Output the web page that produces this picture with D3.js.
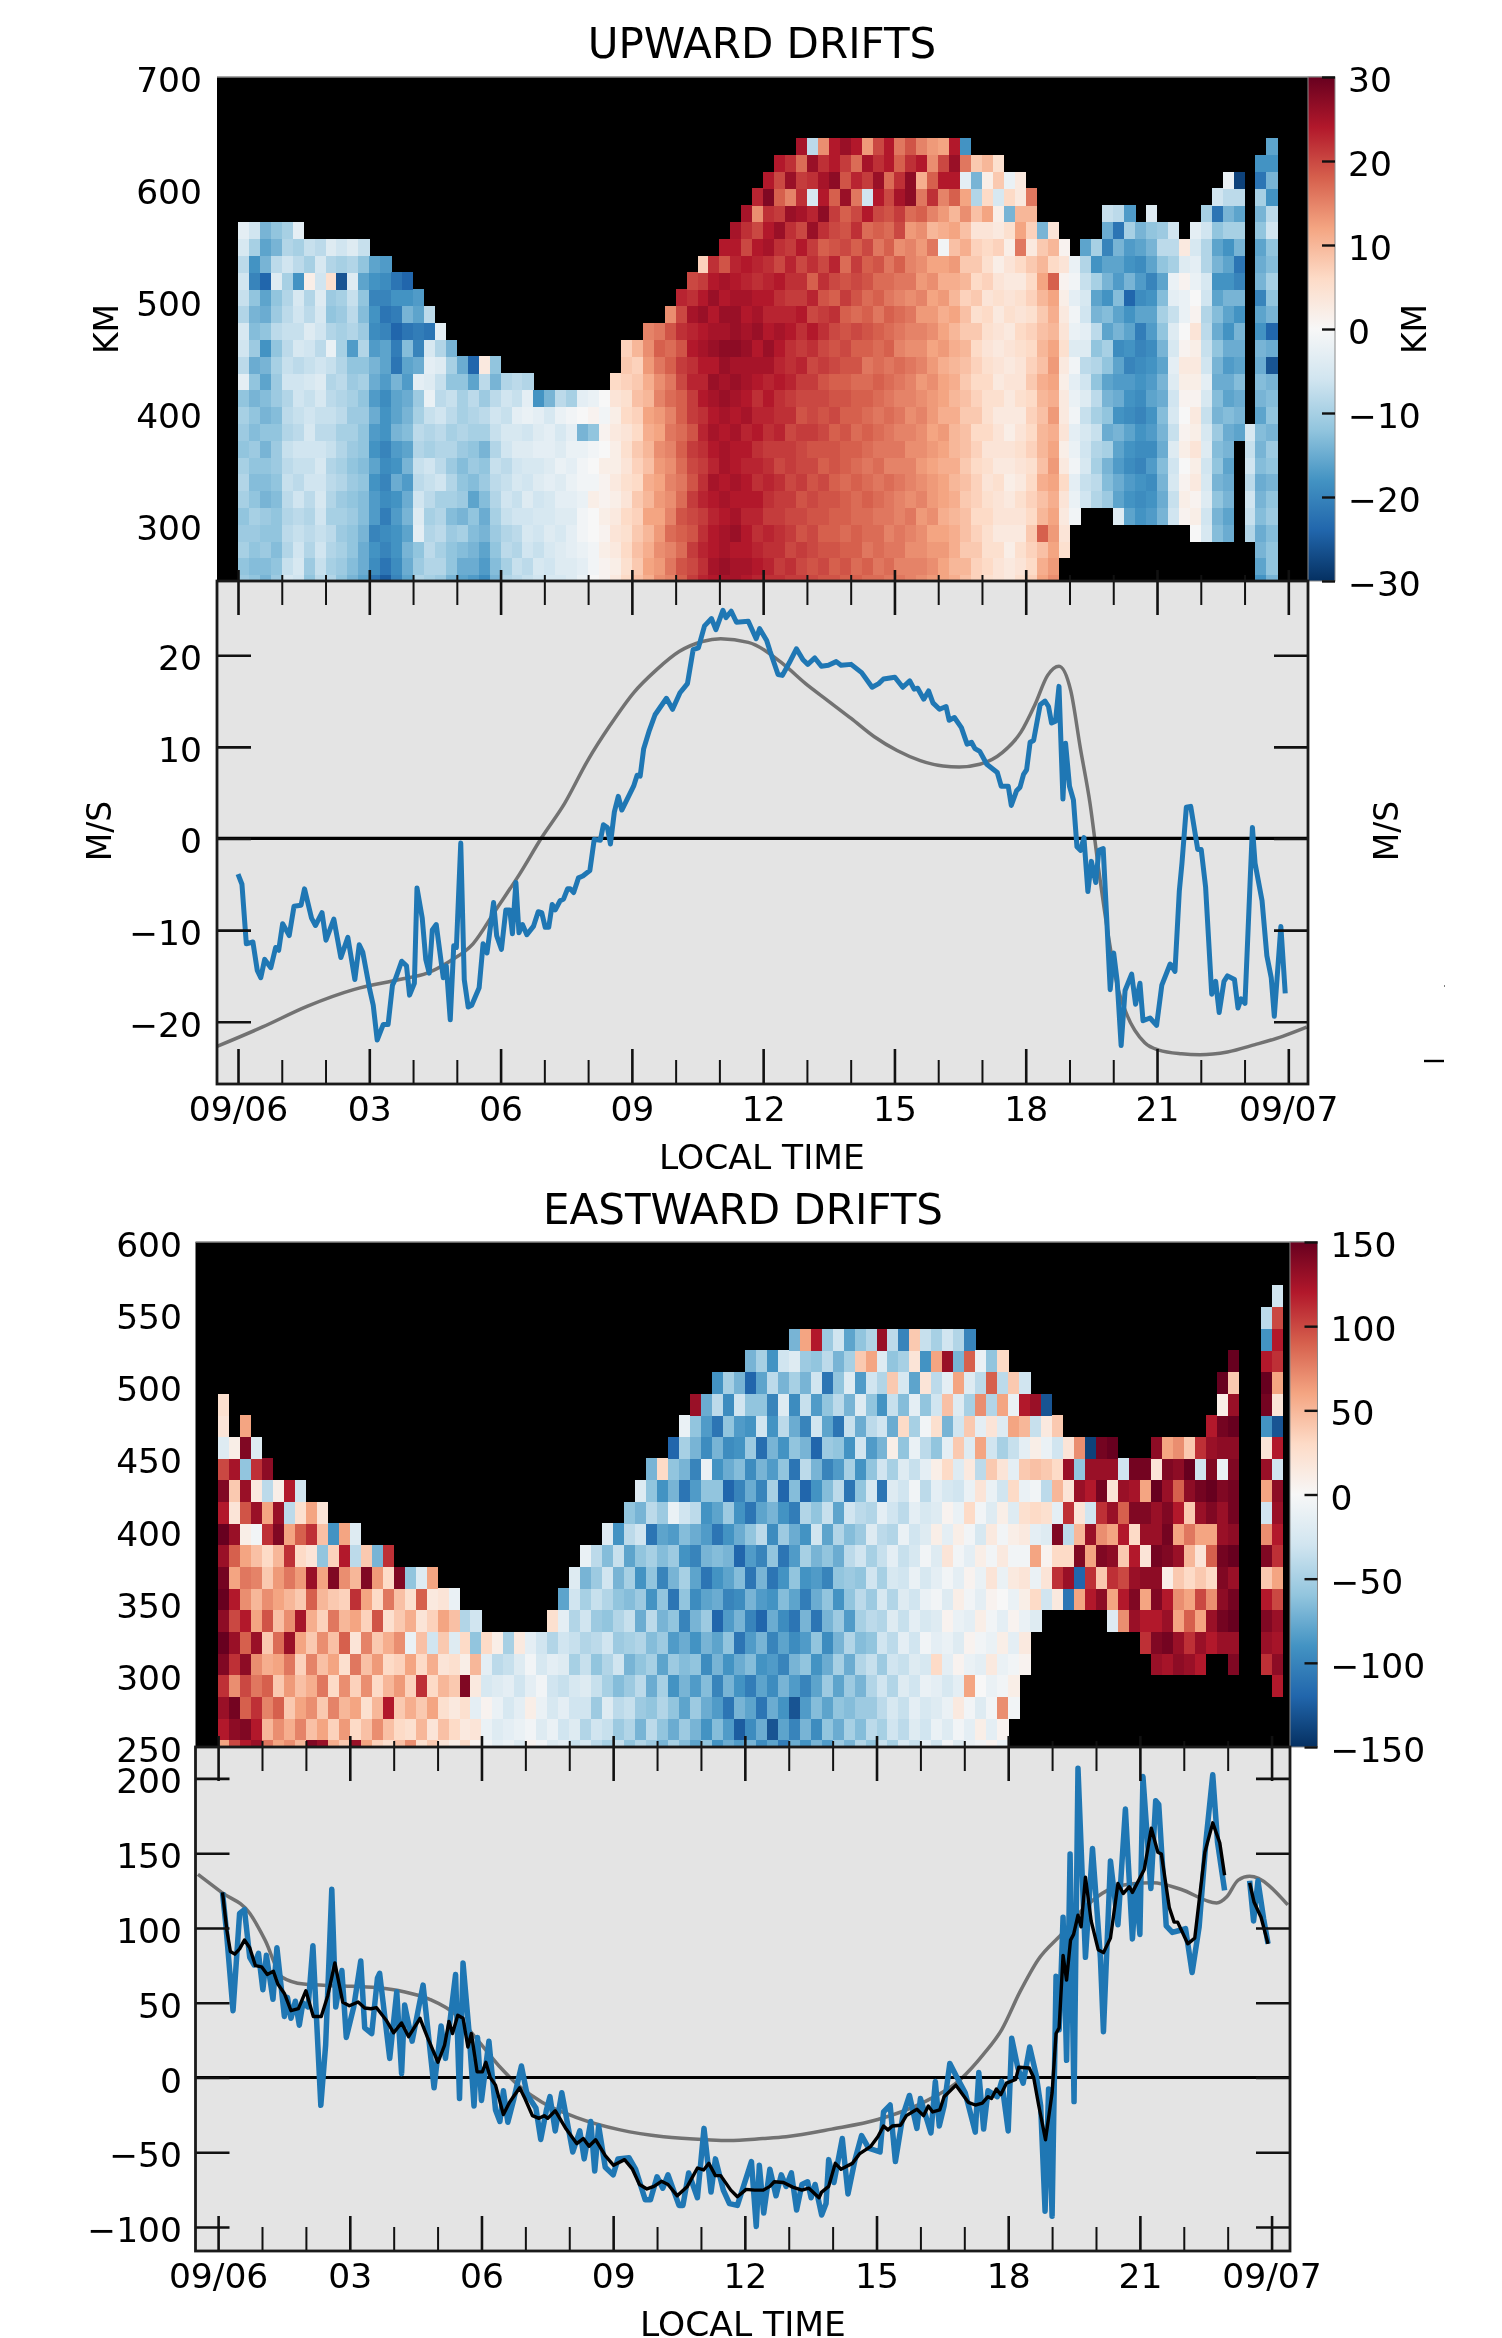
<!DOCTYPE html>
<html>
<head>
<meta charset="utf-8">
<script src="https://cdn.jsdelivr.net/npm/d3@7"></script>
<style>
    body { margin: 0; background: #fff; }
    svg { display: block; filter: blur(0.6px); }
    text { font-family: "DejaVu Sans"; fill: #000; }
</style>
</head>
<body>
<div id="view"></div>
<script>
const _ = null;
const rdbuStops = ["#053061", "#2166ac", "#4393c3", "#92c5de", "#d1e5f0", "#f7f7f7", "#fddbc7", "#f4a582", "#d6604d", "#b2182b", "#67001f"];
const majorHours = [0, 3, 6, 9, 12, 15, 18, 21, 24];
const minorHours = [1, 2, 4, 5, 7, 8, 10, 11, 13, 14, 16, 17, 19, 20, 22, 23];
const hourLabels = ["09/06", "03", "06", "09", "12", "15", "18", "21", "09/07"];
const heatStep = 0.25; // hours per column
const upAltTicks = [300, 400, 500, 600, 700];
const upLineTicks = [-20, -10, 0, 10, 20];
const upBarTicks = [-30, -20, -10, 0, 10, 20, 30];
const eastAltTicks = [250, 300, 350, 400, 450, 500, 550, 600];
const eastLineTicks = [-100, -50, 0, 50, 100, 150, 200];
const eastBarTicks = [-150, -100, -50, 0, 50, 100, 150];

// upward drift, one list per 15 min column, from 248 km up in 15 km steps
const upHeat = [
[-11,-12,-10,-11,-12,-10,-9,-10,-12,-11,-10,-12,-3,-8,-6,-5,-9,-7,-6,-8,-5,-3],
[-12,-13,-12,-11,-10,-12,-13,-12,-11,-13,-12,-14,-12,-15,-11,-13,-14,-12,-20,-18,-10,-6],
[-14,-13,-11,-12,-11,-14,-13,-12,-14,-12,-14,-13,-16,-14,-18,-12,-15,-16,-24,-14,-16,-14],
[-11,-12,-13,-12,-12,-13,-12,-11,-11,-12,-13,-11,-11,-10,-12,-8,-11,-12,-4,-8,-14,-12],
[-5,-7,-9,-8,-9,-8,-7,-8,-7,-9,-8,-9,-6,-7,-8,-7,-8,-9,-10,-6,-9,-10],
[-6,-5,-6,-7,-8,-6,-8,-7,-6,-8,-7,-6,-6,-8,-5,-7,-6,-5,-18,-8,-10,-3],
[-12,-11,-9,-8,-9,-8,-6,-7,-6,-5,-6,-7,-5,-7,-6,-4,-8,-9,2,-10,-7],
[-8,-7,-6,-7,-6,-5,-6,-5,-6,-8,-7,-5,-4,-6,-8,-6,-5,-4,-6,-5,-8],
[-9,-10,-9,-8,-10,-9,-8,-9,-7,-8,-7,-8,-9,-7,-2,-9,-12,-11,5,-9,-4],
[-12,-11,-10,-11,-10,-11,-9,-10,-9,-10,-8,-9,-8,-9,-10,-10,-11,-10,-26,-10,-6],
[-14,-13,-12,-12,-11,-12,-11,-12,-11,-10,-11,-10,-11,-12,-17,-9,-8,-7,-4,-9,-4],
[-16,-15,-15,-14,-13,-13,-12,-13,-12,-12,-11,-12,-10,-12,-9,-11,-13,-12,-16,-12,-7],
[-22,-19,-18,-20,-17,-17,-18,-16,-18,-17,-15,-17,-15,-14,-17,-19,-18,-20,-18,-16],
[-25,-22,-20,-19,-21,-19,-20,-19,-20,-18,-18,-19,-17,-16,-16,-20,-22,-20,-19,-17],
[-20,-19,-18,-18,-17,-18,-15,-18,-17,-14,-16,-16,-14,-22,-21,-24,-21,-18,-22],
[-16,-15,-14,-16,-14,-15,-17,-14,-16,-13,-14,-15,-17,-16,-13,-22,-14,-18,-24],
[-9,-11,-12,-3,-4,-6,-8,-7,-9,-8,-10,-11,-3,-15,-20,-21,-16,-17],
[-10,-9,-8,-9,-10,-8,-7,-6,-10,-9,-7,-2,-4,-3,-5,-22,-8],
[-11,-9,-10,-8,-9,-10,-6,-8,-9,-8,-6,-8,-7,-4,-9,-3],
[-14,-12,-12,-11,-13,-10,-9,-11,-9,-10,-8,-7,-12,-10,-14],
[-16,-15,-13,-10,-14,-11,-12,-13,-11,-9,-10,-10,-12,-15],
[-17,-15,-14,-13,-12,-16,-13,-11,-12,-10,-9,-8,-16,-24],
[-19,-17,-16,-14,-15,-13,-11,-12,-14,-10,-8,-11,-8,3],
[-14,-13,-12,-11,-10,-9,-8,-7,-9,-7,-6,-8,-14,-12],
[-9,-10,-8,-9,-7,-6,-7,-8,-6,-5,-7,-6,-9],
[-8,-7,-9,-8,-6,-7,-5,-6,-4,-5,-3,-7,-8],
[-7,-8,-6,-5,-6,-4,-6,-5,-4,-6,-2,-3,-9],
[-6,-5,-7,-6,-5,-6,-4,-5,-3,-4,-3,-18],
[-5,-6,-5,-4,-5,-5,-3,-4,-3,-3,-5,-14],
[-5,-4,-4,-5,-4,-3,-4,-2,-4,-5,-2,-8],
[-4,-4,-3,-3,-4,-3,-2,-3,-2,-3,-1,-10],
[-2,-3,-2,-1,-1,-2,-1,-1,-2,-14,0,-3],
[0,-1,-1,0,0,2,-1,0,-1,-12,1,-2],
[1,1,2,1,2,1,1,2,0,1,-1,0],
[3,2,3,4,3,2,3,2,2,3,2,4,6],
[6,5,6,5,6,4,5,4,5,4,6,5,7,8,7],
[9,8,9,8,7,8,6,7,8,6,7,9,8,7,10],
[11,12,11,10,12,10,11,9,10,11,12,10,11,13,14,15],
[14,13,14,13,12,13,12,13,14,12,13,15,14,16,18,16],
[15,16,15,17,15,14,15,14,15,16,15,17,16,18,17,19,14],
[18,19,17,18,19,17,16,17,18,17,18,18,20,21,19,22,20,23],
[21,20,21,19,20,21,19,20,21,19,21,21,23,22,24,23,25,22,20],
[23,22,23,22,21,23,22,21,22,23,22,24,23,24,25,24,26,24,21,7],
[24,25,24,24,23,24,25,23,24,25,24,25,26,24,26,25,24,26,24,22],
[25,26,25,25,24,25,24,25,25,24,25,26,25,26,27,25,26,24,25,19,24],
[25,25,24,26,25,24,25,24,24,25,24,25,26,25,27,26,26,25,24,23,24,25],
[24,25,24,24,23,24,24,23,24,23,25,24,25,25,26,25,24,25,23,24,20,22,25],
[23,24,23,22,23,24,22,23,22,24,23,22,24,25,24,26,25,24,22,23,24,20,14,23],
[22,23,22,23,21,22,23,22,21,22,23,24,23,25,26,24,23,24,23,22,25,24,22,28,24],
[22,21,22,22,21,21,22,20,21,23,22,22,24,23,24,25,23,22,24,20,22,26,21,18,20,24],
[21,22,20,21,20,21,20,21,21,20,22,21,23,22,22,24,23,21,22,23,21,22,26,15,26,22],
[21,20,21,19,20,19,21,20,20,21,19,20,21,23,21,22,24,21,22,20,24,20,25,22,21,17,25],
[20,19,20,20,19,20,19,20,19,21,20,20,21,20,22,24,20,23,18,22,21,26,23,-5,22,26,-8],
[19,20,19,18,19,19,20,18,19,20,19,20,19,21,20,22,21,19,22,20,18,22,27,24,25,22,14],
[19,18,19,18,18,19,18,19,19,18,20,19,18,20,19,20,22,18,20,23,19,20,21,18,27,24,24],
[18,19,18,17,18,18,17,18,18,19,18,19,18,19,20,19,18,21,19,17,20,19,18,26,19,21,26],
[18,17,18,18,17,17,18,17,18,17,18,18,17,19,18,20,17,19,20,21,18,22,20,16,23,17,24],
[17,18,16,17,17,18,17,16,17,18,17,18,17,16,18,19,18,17,19,18,20,17,24,-6,21,25,13],
[17,16,17,17,16,17,16,17,16,17,16,17,18,17,17,18,16,18,17,19,16,18,20,24,26,22,20],
[16,17,16,15,16,16,17,15,16,16,17,16,17,16,18,17,18,16,17,16,18,17,19,20,17,24,24],
[16,15,16,16,15,15,16,15,16,15,16,15,16,17,15,16,17,15,16,18,14,20,21,25,22,18,16],
[15,15,14,15,16,14,15,15,14,15,14,15,15,16,14,15,16,14,16,15,15,13,17,27,27,22,19],
[14,15,14,14,13,15,14,13,14,14,15,14,13,15,14,15,13,15,13,14,13,14,18,16,11,24,15],
[13,14,13,12,14,13,13,12,13,12,13,13,14,13,12,14,13,12,14,12,16,10,15,22,18,14,13],
[12,12,13,12,11,12,12,11,12,13,11,12,12,11,13,12,11,13,11,12,-1,11,13,15,24,20,12],
[11,10,11,11,10,11,10,11,10,10,11,10,11,10,11,10,12,10,11,13,9,12,10,18,24,26,24],
[9,10,8,9,9,8,9,8,9,9,8,9,8,9,10,8,9,7,10,8,11,9,14,12,-3,16,-18],
[7,7,8,7,6,7,7,6,7,6,8,7,6,7,6,8,5,8,6,8,7,4,9,-9,-14,8],
[5,6,5,5,6,5,4,5,4,6,5,5,6,5,4,5,6,4,7,5,6,4,12,6,2,10],
[4,4,5,3,4,4,5,3,4,4,3,5,3,4,3,4,3,5,4,2,7,3,2,-5,8,5],
[3,3,2,3,4,3,2,3,4,2,3,3,4,3,4,3,5,4,3,4,2,5,-14,6,-2],
[5,4,5,3,4,5,3,4,5,4,3,5,4,4,5,6,4,5,3,6,16,12,10,3,3],
[7,6,7,8,6,7,6,5,7,6,7,6,8,7,6,7,5,7,6,8,3,7,10,16],
[12,11,9,18,10,9,11,9,10,10,9,10,11,9,10,9,8,10,12,10,8,-14],
[14,13,12,13,12,11,12,13,12,11,13,11,12,13,12,10,11,12,18,6,10,4],
[_,_,5,4,3,4,6,3,2,4,3,3,2,3,5,4,3,2,1,4,1],
[_,_,_,_,-1,-2,-3,-1,-2,-3,-1,-2,-3,-1,-4,-2,-1,-3,-1,-2],
[_,_,_,_,_,-6,-7,-5,-6,-5,-7,-4,-6,-8,-4,-3,-6,-5,-7,-9,-16],
[_,_,_,_,_,-9,-8,-10,-9,-7,-10,-8,-12,-9,-12,-8,-14,-16,-10,-18,-10],
[_,_,_,_,_,-11,-13,-14,-10,-15,-12,-14,-16,-12,-10,-16,-13,-18,-14,-16,-20,-15,-7],
[_,_,_,_,-4,-16,-15,-17,-16,-14,-18,-15,-17,-16,-19,-14,-16,-13,-17,-16,-14,-22,-8],
[_,_,_,_,-16,-18,-17,-19,-18,-16,-19,-18,-17,-20,-18,-16,-18,-24,-14,-18,-17,-10,-17],
[_,_,_,_,-18,-19,-18,-20,-19,-18,-20,-19,-18,-19,-20,-21,-16,-19,-17,-19,-16,-14],
[_,_,_,_,-17,-18,-19,-17,-19,-17,-18,-16,-17,-18,-19,-17,-16,-18,-20,-16,-14,-12,-4],
[_,_,_,_,-14,-15,-14,-13,-15,-14,-13,-15,-14,-16,-14,-12,-10,-13,-16,-12,-8,-11],
[_,_,_,_,-6,-7,-5,-6,-4,-7,-5,-6,-4,-3,-5,-4,-7,-3,-2,-10,-8,-6],
[_,_,_,_,1,2,1,0,2,1,0,1,2,3,1,0,-2,-2,1,-4,3],
[_,_,_,0,2,1,3,2,4,2,3,1,2,3,2,4,1,0,-2,-3,-5,-3],
[_,_,_,-5,-6,-4,-5,-6,-4,-5,-7,-5,-3,-6,-7,-8,-9,-6,-5,-9,-9,-6,-10],
[_,_,_,-13,-14,-12,-14,-12,-13,-11,-14,-13,-15,-14,-12,-15,-13,-16,-18,-14,-16,-12,-22,-6],
[_,_,_,-15,-16,-14,-15,-16,-14,-15,-13,-16,-15,-17,-15,-18,-16,-14,-18,-16,-18,-10,-14,-8,-2],
[_,_,_,_,_,_,_,_,_,-16,-14,-15,-13,-16,-15,-14,-18,-14,-20,-22,-14,-10,-16,-8,-28],
[_,_,_,-9,-7,-6,-8,-6,-7,-5],
[-18,-16,-14,-15,-13,-14,-15,-13,-14,-13,-16,-14,-13,-15,-14,-18,-16,-20,-14,-15,-16,-12,-14,-10,-22,-18],
[-14,-12,-12,-13,-11,-12,-14,-12,-11,-14,-12,-13,-14,-26,-15,-24,-14,-12,-10,-13,-12,-6,-8,-18,-14,-18,-16]
];
const upAltStart = 248;

// eastward drift, same columns, from 247.5 km up in 15 km steps
const eastHeat = [
[60,120,130,110,140,150,135,150,145,130,150,120,140,100,-20,20,25],
[100,135,145,70,110,130,100,120,60,90,130,20,40,125,10],
[120,140,90,100,135,90,120,70,80,60,10,95,130,-60,140,60],
[130,120,110,80,70,130,60,50,75,45,-5,130,15,110,-20],
[80,50,75,90,55,40,95,70,40,30,110,60,-40,135],
[60,70,90,40,60,85,45,60,65,50,140,130,10],
[70,55,40,65,80,130,70,50,80,110,60,-40,120],
[50,75,60,45,35,60,125,40,65,30,90,25,-30],
[140,45,70,55,75,40,55,90,130,20,110,60],
[130,60,40,80,45,70,35,50,60,-60,45,20],
[55,35,75,30,60,45,80,40,140,35,-90],
[40,65,50,70,25,90,50,35,70,120,60],
[130,30,60,35,80,20,60,110,50,-40,-20],
[60,45,25,70,45,75,35,60,140,40],
[35,70,50,30,65,40,95,30,65,-70],
[25,45,120,50,30,55,25,80,30,110],
[45,30,40,65,35,70,40,45,140],
[70,25,55,35,60,-10,55,25,-60],
[25,50,40,110,30,45,20,90,-20],
[40,20,60,30,55,-30,35,15,60],
[20,45,25,50,20,40,60,20],
[10,30,15,40,25,-20,45,-10],
[30,15,25,140,10,30,-45],
[5,20,-15,15,50,-60,-30],
[-5,-10,5,-25,-15,30],
[-15,-20,-10,-20,-40,10],
[-10,-15,-25,-15,-35,-50],
[-20,-10,-15,-30,-20,15],
[5,-5,10,-15,-5,-15],
[-5,-20,-10,-5,-25,-30],
[-20,-10,-25,-30,-15,-45,25],
[-15,-30,-15,-35,-20,-30,-15,-80],
[-35,-20,-30,-25,-50,-35,-45,-30,-20],
[-25,-45,-30,-20,-35,-45,-30,-50,-70,-10],
[-40,-30,-55,-35,-60,-40,-55,-35,-55,-40],
[-50,-35,-20,-50,-45,-30,-60,-45,-30,-65,-20],
[-35,-55,-40,-65,-30,-55,-45,-60,-70,-35,-90],
[-60,-45,-35,-55,-70,-50,-35,-65,-50,-80,-40,-60],
[-45,-70,-55,-40,-60,-45,-75,-55,-90,-60,-30,-70,-20],
[-55,-40,-60,-75,-50,-65,-40,-90,-60,-50,-110,-40,-60,-70],
[-70,-60,-45,-50,-80,-55,-70,-60,-100,-65,-80,-55,-90,30],
[-50,-75,-60,-90,-55,-85,-60,-110,-70,-55,-85,-10,-70,-60,-120],
[-65,-55,-80,-70,-65,-75,-100,-60,-50,-90,-65,-30,-110,-70,-50,-10],
[-80,-70,-55,-85,-60,-90,-70,-95,-80,-100,-75,-40,-85,-100,-70,-60,130],
[-60,-90,-75,-65,-95,-70,-55,-80,-110,-70,-85,-90,-60,-10,-95,-85,-75],
[-90,-65,-85,-100,-70,-80,-120,-75,-90,-65,-110,-80,-60,-90,-70,-110,-40,-90],
[-75,-85,-110,-70,-90,-60,-85,-100,-80,-70,-90,-55,-120,-75,-95,-60,-95,-50],
[-85,-125,-70,-90,-75,-110,-70,-95,-65,-120,-75,-90,-100,-65,-90,-85,-30,-70],
[-70,-95,-80,-105,-65,-85,-100,-70,-110,-85,-60,-110,-75,-95,-55,-90,-60,-120,-70],
[-95,-75,-110,-80,-90,-70,-120,-85,-70,-100,-40,-80,-100,-70,-115,-30,-60,-80,-50],
[-80,-130,-75,-95,-85,-100,-75,-90,-110,-60,-95,-70,-50,-85,-70,-90,-100,-40,-90],
[-105,-80,-90,-70,-100,-80,-95,-65,-90,-110,-55,-90,-120,-60,-90,-40,-20,-70,-30],
[-75,-100,-130,-85,-70,-95,-110,-80,-60,-85,-75,-105,-65,-110,-60,-75,-95,-50,-20,-70],
[-90,-70,-85,-100,-60,-85,-70,-105,-90,-50,-90,-45,-120,-40,-70,-100,-35,-70,-55,60],
[-70,-95,-65,-80,-90,-60,-110,-75,-85,-70,-30,-60,-90,-70,-120,-30,-85,-30,-60,120],
[-85,-60,-80,-55,-75,-95,-70,-60,-100,-60,-80,-35,-65,-100,-55,-80,-60,-110,-40,-55],
[-55,-75,-60,-80,-50,-70,-55,-90,-60,-75,-45,-80,-40,-85,-60,-110,-40,-60,-70,-30],
[-70,-50,-65,-55,-75,-45,-85,-60,-55,-40,-65,-30,-110,-50,-90,-35,-70,-20,-50,-80],
[-45,-65,-55,-70,-45,-65,-50,-40,-60,-30,-55,-40,-60,-90,-30,-75,-20,-85,40,-60],
[-60,-40,-55,-45,-35,-60,-40,-55,-30,-50,-20,-45,-25,-60,-85,-40,-60,-30,60,-45],
[-35,-50,-40,-30,-55,-30,-45,-25,-50,-35,-40,-15,-110,-30,-70,-30,-90,-45,-20,130],
[-50,-30,-25,-45,-30,-40,-20,-45,-25,-15,-45,-30,-20,-50,10,-75,-35,40,-60,-40],
[-25,-40,-35,-20,-35,-15,-35,-20,-30,-35,-10,-40,-30,-20,-60,30,-65,-25,-50,-100],
[-35,-20,-15,-30,-20,-30,-15,-30,-10,-25,-30,-15,-5,-35,-10,-50,-15,-80,20,40],
[-15,-30,-25,-10,-25,-5,-25,-10,-25,-5,-20,-25,-40,-15,-40,-5,-60,20,-90,-35],
[-30,-10,-20,-15,30,-15,-20,-5,-15,-20,10,-20,-15,10,-60,25,-30,-40,60,-50],
[-5,-20,-10,-25,-15,-10,5,-20,-5,20,-15,5,-25,30,-15,-70,45,-15,130,-30],
[-20,-5,15,-15,5,-20,-10,10,-15,-5,10,-10,-30,-20,40,-30,-20,60,-70,-45],
[-10,-15,-5,60,-10,5,-15,-5,5,-15,-5,30,-10,15,-20,40,-50,-20,90,-100],
[-5,10,-20,0,-15,-5,10,-15,-10,10,-25,-5,20,-40,60,-15,70,-40,-10],
[5,-15,-5,-10,15,-10,-5,5,20,-5,15,-20,-10,40,-30,20,-45,90,-60],
[-10,5,70,-5,-10,10,-15,0,-10,15,-5,10,-30,20,-50,-20,60,-40,30],
[_,_,-5,10,-5,-15,5,-10,15,-5,10,-20,30,-15,-35,60,-10,40],
[_,_,_,_,5,15,-10,10,20,-5,15,25,-10,40,-15,50,120,-30],
[_,_,_,_,_,_,-20,30,-10,60,-15,30,-5,45,10,-35,130],
[_,_,_,_,_,_,_,-30,20,5,-20,25,-40,40,-10,15,-130],
[_,_,_,_,_,_,_,15,110,30,140,-15,50,30,-30,40],
[_,_,_,_,_,_,_,-110,130,30,-40,110,20,130,20],
[_,_,_,_,_,_,_,60,-120,140,50,20,130,-60,70],
[_,_,_,_,_,_,_,120,110,60,130,-30,120,130,-140],
[_,_,_,_,_,_,_,135,40,140,70,110,145,130,145],
[_,_,_,_,_,_,-20,60,110,135,60,130,20,130,150],
[_,_,_,_,_,_,70,120,100,40,120,90,130,-30],
[_,_,_,_,_,_,130,140,130,120,30,140,125,145],
[_,_,_,_,_,110,120,60,135,20,130,140,60,145],
[_,_,_,_,130,140,120,140,135,145,130,130,150,20,135],
[_,_,_,_,125,145,130,120,10,140,145,140,130,140,60],
[_,_,_,_,135,130,60,70,40,130,60,120,90,135,70],
[_,_,_,_,130,110,90,60,30,50,80,40,135,150,40],
[_,_,_,_,120,130,60,100,40,20,60,130,145,-30,110],
[_,_,_,_,_,120,130,70,30,90,60,140,150,140,130,120],
[_,_,_,_,_,130,145,135,140,145,130,130,140,-10,135,145,10,150],
[_,_,_,_,140,130,150,145,130,150,135,145,145,140,135,150,130,40,150],
[],
[],
[_,_,_,_,110,130,140,120,40,140,70,-30,60,130,20,-90,145,150,120,-90,-40],
[_,_,_,120,135,125,130,100,60,110,120,130,135,-30,120,-130,20,60,110,120,100,-30]
];
const eastAltStart = 247.5;

const upBlueTime = [0,.09,.19,.34,.44,.52,.61,.75,.86,.93,1.02,1.17,1.28,1.44,1.52,1.68,1.77,1.92,2.01,2.19,2.35,2.51,2.67,2.77,2.85,3.01,3.09,3.18,3.32,3.43,3.53,3.6,3.74,3.85,3.92,4.03,4.09,4.21,4.29,4.37,4.44,4.53,4.69,4.76,4.85,4.93,4.99,5.09,5.17,5.26,5.34,5.51,5.6,5.69,5.84,5.91,6.02,6.12,6.21,6.27,6.35,6.42,6.5,6.6,6.75,6.86,6.94,7.02,7.1,7.18,7.25,7.36,7.44,7.53,7.59,7.67,7.78,7.88,8.04,8.14,8.28,8.35,8.44,8.51,8.6,8.69,8.77,9.04,9.12,9.19,9.27,9.4,9.53,9.79,9.93,10.1,10.27,10.4,10.52,10.66,10.82,10.92,11.08,11.15,11.27,11.39,11.66,11.84,11.92,12.08,12.16,
12.34,12.44,12.6,12.76,12.91,13.02,13.18,13.33,13.49,13.67,13.78,14.01,14.25,14.49,14.64,14.75,15.01,15.19,15.35,15.45,15.53,15.67,15.78,15.88,16.03,16.18,16.25,16.37,16.53,16.66,16.76,16.84,16.95,17.11,17.35,17.44,17.6,17.67,17.79,17.87,17.95,18.02,18.1,18.18,18.33,18.44,18.52,18.59,18.68,18.76,18.85,18.91,19,19.09,19.17,19.25,19.33,19.42,19.5,19.6,19.67,19.77,19.85,19.93,20.01,20.09,20.18,20.27,20.42,20.51,20.61,20.68,20.84,20.99,21.11,21.3,21.41,21.51,21.57,21.67,21.77,21.93,22.01,22.11,22.25,22.34,22.42,22.53,22.61,22.77,22.85,22.92,23.01,23.18,23.24,23.4,23.51,23.61,23.68,23.83,23.93];
const upBlue = [-3.9,-5,-11.5,-11.3,-14.4,-15.2,-13.2,-14.1,-11.9,-12.2,-9.3,-10.6,-7.4,-7.3,-5.5,-8.7,-9.5,-8.1,-11.1,-8.8,-13,-10.8,-15.4,-11.6,-12.4,-16.5,-18.2,-22,-20.3,-20.3,-16,-15.3,-13.4,-13.9,-17.1,-15.8,-5.4,-8.7,-13.2,-14.7,-10,-9.4,-15.2,-13.9,-19.8,-11.7,-11.9,-.5,-15.4,-18.4,-18.2,-16.3,-11.5,-12.5,-7,-10.6,-12.1,-7.8,-7.8,-10.4,-4.8,-10.3,-9.4,-10.5,-9.6,-8,-8.1,-9.7,-9.7,-7.2,-7.8,-6.8,-6.6,-5.5,-5.5,-5.9,-4.3,-4.1,-3.5,-.1,-.2,1.5,1.2,-.6,2.9,4.6,3.1,5.7,6.9,6.8,9.8,11.8,13.5,15.3,14.1,15.9,16.9,20.6,20.8,23.2,24,22.8,24.9,24.1,24.8,23.6,23.7,21.8,22.9,21.6,20.4,
17.9,17.8,19.2,20.7,19.5,19,19.7,18.8,18.9,19.3,18.9,19,18.1,16.5,16.9,17.4,17.6,16.5,17.2,16.3,16.4,15.2,16.1,14.8,14.1,14.4,12.9,13.2,12.1,10.3,10.5,9.8,9.5,8.1,7.2,5.7,5.7,3.6,5.2,5.6,7,7.5,10.5,10.7,14.6,15,14.4,12.6,12.8,16.6,4.3,10.4,5.7,4.2,-.9,-1.3,.1,-5.8,-2.5,-4.8,-1.3,-1.1,-8.7,-16.5,-12.5,-15.6,-22.6,-16.6,-14.8,-18.1,-15.8,-19.9,-19.6,-20.4,-16,-13.7,-14.5,-5.7,-2.7,3.4,3.5,-1.2,-1.2,-5.3,-17,-15.6,-19,-15.6,-15,-15.4,-18.5,-17.5,-18,1.2,-2.7,-6.8,-12.8,-15.2,-19.4,-9.6,-16.9];
const upGreyTime = [-.48,.55,1.59,2.64,3.69,4.32,4.84,5.37,5.89,6.42,6.94,7.46,7.99,8.51,9.04,9.56,10.08,10.61,11.03,11.66,12.44,12.97,13.49,14.01,14.54,15.06,15.59,16.11,16.48,16.95,17.47,17.89,18.21,18.5,18.76,19.03,19.25,19.47,19.67,19.88,20.09,20.3,20.72,21.04,21.56,21.98,22.61,23.24,23.87,24.42];
const upGrey = [-22.7,-20.6,-18.3,-16.5,-15.4,-14.7,-13.4,-11.5,-7.8,-4,.1,3.8,8.5,12.4,15.9,18.4,20.4,21.5,21.8,21.4,19.1,16.9,15,13.1,11.1,9.6,8.5,7.9,7.8,8.1,9.4,11.6,14.6,17.8,18.8,16.1,9.8,3.8,-3.5,-10.4,-16,-19.1,-22.3,-23.1,-23.5,-23.6,-23.3,-22.5,-21.6,-20.6];

const eastBlueTime = [.1,.18,.34,.49,.6,.72,.82,.92,1.02,1.1,1.25,1.34,1.51,1.58,1.66,1.76,1.85,1.93,2.05,2.16,2.34,2.45,2.59,2.68,2.82,2.92,3.09,3.25,3.34,3.5,3.63,3.68,3.91,4.07,4.18,4.25,4.42,4.67,4.92,5.08,5.18,5.41,5.5,5.58,5.72,5.83,5.91,6,6.17,6.32,6.42,6.5,6.6,6.74,6.91,7.04,7.24,7.35,7.48,7.56,7.68,7.83,8.08,8.24,8.34,8.49,8.58,8.67,8.82,9,9.11,9.36,9.51,9.73,9.85,10,10.13,10.25,10.5,10.59,10.72,10.92,11.07,11.23,11.33,11.51,11.65,11.83,12.15,12.26,12.33,12.43,12.57,12.71,12.83,12.94,13.06,13.18,13.3,13.43,13.51,13.6,13.75,13.85,13.91,14.03,14.22,14.35,14.51,14.66,14.82,15.08,15.16,15.31,15.43,15.6,15.75,15.92,16,16.24,16.34,16.43,16.54,16.67,16.81,17.02,17.25,17.33,17.44,17.54,17.75,17.85,18,18.08,18.22,18.34,18.49,18.64,18.74,18.84,18.92,19,19.09,19.16,19.25,19.33,19.41,19.5,19.59,19.76,19.92,20.1,20.17,20.33,20.5,20.67,20.83,20.91,21,21.07,21.25,21.36,21.43,21.6,21.74,21.9,22.04,22.19,22.35,22.51,22.66,22.77,22.93,23.2,23.5,23.59,23.69,23.82,23.92];
const eastBlue = [123.8,100.8,44.7,109.8,112.3,80.4,75.3,83,58.7,81.7,52.3,86.8,40.8,53.6,39.6,51,35,49.8,47.2,88.1,-18.6,21.7,125.9,47.2,71.5,26.8,47.2,77.9,33.2,29.4,66.4,69.7,12.8,57.4,2.6,48.5,24.3,61.8,-6.9,34.5,12.8,68.9,-14,76.6,29.4,-19.1,26.8,-15.3,24.3,-21.7,-29.4,-8.9,-29.9,-14,7.7,-11.5,-20.4,-41.4,-21.7,-12.8,-35.7,-10.2,-49.8,-35.7,-54.4,-29.4,-62.5,-32.4,-60,-65.1,-54.4,-53.6,-61.3,-81.7,-81.7,-66.4,-74,-65.1,-85.5,-85.5,-63.8,-80.4,-34,-76.6,-54.4,-75.3,-84.3,-85.5,-56.2,-99.6,-58.7,-90.6,-61.3,-79.1,-65.1,-72.8,-63.8,-88.6,-71.5,-69.7,-80.4,-71.5,-91.9,-84.3,-54.9,-70.2,-40.8,-77.9,-54.9,-38.8,-47.2,-49.8,-23,-18.4,-56.2,-25.5,-12,-34,-14,-37,-2.6,-32.4,-19,9.4,1.3,-10.2,-36.5,3.3,-34.5,-8.9,-12.8,-2.6,-35.7,26.3,6.4,-3.8,20.4,1.3,-19,-89.4,-7.7,-92.7,67.7,31.9,107.2,11.5,149.4,-16.1,206.8,80.4,153.2,80.4,30.6,144.8,102.1,179.5,92.7,128.9,95.7,201.2,126.4,185.1,182.5,101.4,97,98.3,99.6,70.2,100.8,159.6,202.5,157,125.1,_,131.5,104.7,131.5,106,89.4];
const eastBlackTime = [.1,.2,.28,.38,.49,.6,.72,.85,.99,1.12,1.26,1.36,1.51,1.66,1.83,2,2.17,2.35,2.5,2.66,2.84,2.99,3.19,3.34,3.48,3.61,3.83,4,4.18,4.34,4.6,4.77,5.01,5.16,5.26,5.34,5.46,5.58,5.69,5.77,5.9,6.02,6.1,6.2,6.32,6.5,6.64,6.87,6.99,7.16,7.31,7.43,7.51,7.68,7.93,8.17,8.32,8.45,8.6,8.82,9.01,9.26,9.44,9.6,9.77,9.93,10.1,10.25,10.46,10.69,10.92,11.06,11.18,11.33,11.45,11.68,11.83,12.03,12.22,12.42,12.57,12.67,12.88,13.09,13.3,13.46,13.69,13.75,13.91,14.06,14.19,14.45,14.61,14.87,15.03,15.16,15.26,15.36,15.55,15.68,15.92,16.07,16.18,16.28,16.44,16.54,16.81,17.09,17.25,17.41,17.54,17.62,17.73,17.83,17.96,18.17,18.24,18.48,18.58,18.69,18.85,19,19.09,19.16,19.25,19.33,19.42,19.49,19.59,19.66,19.76,19.89,20.05,20.17,20.33,20.5,20.62,20.76,20.83,21.1,21.26,21.41,21.49,21.67,21.78,21.86,22.09,22.25,22.48,22.66,22.82,22.93,23.2,23.5,23.6,23.76,23.92];
const eastBlack = [123.8,98.3,84.2,82.5,86,91.9,86.8,74.8,74,68.9,71,62.5,56.2,44.7,46,58,40.8,40.8,54.9,76.6,50.3,48,50.5,46.5,46,46.7,38.3,29.9,36.5,27.3,39.6,26.8,10.2,21.7,37.5,29.4,41.6,39.6,20.4,29.4,3.8,3.8,10.2,0,-5.1,-24.8,-16.6,-6.9,-14,-25.5,-27.3,-25.5,-27.3,-22.2,-34.5,-44.2,-40.8,-46,-41.6,-52.3,-58.7,-54.9,-61.3,-71.5,-74.5,-72.8,-69.4,-71.5,-79.1,-72.8,-60.5,-61.8,-57.4,-65.6,-65.6,-75.3,-79.7,-74.8,-75.3,-75.3,-72.8,-69.7,-70.2,-73.3,-75.3,-74,-80.4,-76.6,-72.8,-57.4,-61.3,-57.4,-51.1,-46,-39.6,-32.4,-35,-32.4,-31.9,-25.5,-21.2,-25.5,-19.1,-23,-21.7,-12.8,-5.1,-16.6,-18.4,-17.1,-12.8,-14,-7.7,-11.5,-3.8,-1.3,6.9,6.4,0,-17.9,-41.6,-10.2,29.4,33.2,81.7,65.1,91.9,95.7,108.5,100.8,134,104.7,85.5,83.5,93.2,129.7,123,127.6,123.8,139.1,166.7,150.6,149.4,113.6,103.9,103.9,89.4,93.2,150.6,170.3,157,135.3,_,130.2,117.4,107.2,89.4];
const eastGreyTime = [-.46,.08,.72,1.07,1.46,1.95,2.74,3.63,4.23,4.82,5.41,5.9,6.4,6.89,7.38,8.17,9.16,10.15,11.14,11.63,12.41,12.94,13.98,15.03,16.07,16.91,17.43,17.85,18.27,18.69,19.21,19.74,20.26,20.78,21.3,21.93,22.75,22.98,23.24,23.5,24.37];
const eastGrey = [135.8,123.8,109.8,91.9,67.1,62.5,61.3,60,57.4,52.3,42.1,25.5,7.7,-6.4,-16.6,-26.8,-35,-39.6,-41.6,-42.1,-40.8,-39.6,-34.5,-28.1,-16.6,-1.3,15.3,31.9,57.4,79.1,95.7,113.6,125.1,129.4,130.2,125.9,116.7,120.8,132,134.5,115.4];

const svg = d3.select("#view")
    .append("svg")
    .attr("width", 1502)
    .attr("height", 2338);
const defs = svg.append("defs");

const fmt = d3.format("d");
const tickFont = 34.5;

function colorScale(max) {
    return d3.scaleLinear()
        .domain(rdbuStops.map((c, i) => -max + i * max / 5))
        .range(rdbuStops)
        .clamp(true);
}

function stripDomain(g) {
    g.select(".domain").remove();
}

function hourAxes(g, x, top, bottom, nub) {
    // major and minor ticks pointing into the line panel, top and bottom
    const styled = (sel, w) => sel.call(stripDomain).selectAll("line").attr("stroke", "#111").attr("stroke-width", w);
    g.append("g").attr("transform", `translate(0,${top})`)
        .call(d3.axisTop(x).tickValues(majorHours).tickSize(-34).tickFormat(""))
        .call(styled, 2.6);
    g.append("g").attr("transform", `translate(0,${top})`)
        .call(d3.axisTop(x).tickValues(minorHours).tickSize(-24).tickFormat(""))
        .call(styled, 2);
    // short nubs over the heat map
    g.append("g").attr("transform", `translate(0,${top})`)
        .call(d3.axisTop(x).tickValues(majorHours).tickSize(nub).tickFormat(""))
        .call(styled, 2.6);
    g.append("g").attr("transform", `translate(0,${top})`)
        .call(d3.axisTop(x).tickValues(minorHours).tickSize(nub - 5).tickFormat(""))
        .call(styled, 2);
    g.append("g").attr("transform", `translate(0,${bottom})`)
        .call(d3.axisBottom(x).tickValues(minorHours).tickSize(-24).tickFormat(""))
        .call(styled, 2);
    const labels = g.append("g").attr("transform", `translate(0,${bottom})`)
        .call(d3.axisBottom(x).tickValues(majorHours).tickSize(-35).tickPadding(13)
            .tickFormat((d, i) => hourLabels[i]))
        .call(styled, 2.6);
    labels.selectAll("text").attr("font-size", tickFont).attr("font-family", "DejaVu Sans").attr("fill", "#000");
}

function drawPanel(p) {
    const x = d3.scaleLinear().domain(p.hourDomain).range([p.left, p.right]);
    const alt = d3.scaleLinear().domain(p.altDomain).range([p.heatBottom, p.heatTop]);
    const y = d3.scaleLinear().domain(p.lineDomain).range([p.lineBottom, p.heatBottom]);
    const color = colorScale(p.barMax);
    const g = svg.append("g");

    // heat map
    g.append("rect")
        .attr("x", p.left).attr("y", p.heatTop)
        .attr("width", p.right - p.left).attr("height", p.heatBottom - p.heatTop)
        .attr("fill", "#000");
    const clipId = "clip" + p.name;
    defs.append("clipPath").attr("id", clipId).append("rect")
        .attr("x", p.left).attr("y", p.heatTop)
        .attr("width", p.right - p.left).attr("height", p.heatBottom - p.heatTop);
    const cells = p.heat.flatMap((col, c) => col.map((v, k) => ({c, k, v}))).filter(d => d.v !== null);
    g.append("g").attr("clip-path", `url(#${clipId})`)
        .attr("shape-rendering", "crispEdges")
        .selectAll("rect")
        .data(cells)
        .join("rect")
        .attr("x", d => x(d.c * heatStep))
        .attr("width", d => x((d.c + 1) * heatStep) - x(d.c * heatStep) + 0.4)
        .attr("y", d => alt(p.altStart + d.k * 15 + 7.5))
        .attr("height", d => alt(p.altStart + d.k * 15 - 7.5) - alt(p.altStart + d.k * 15 + 7.5) + 0.4)
        .attr("fill", d => color(d.v));
    g.append("line")
        .attr("x1", p.left).attr("x2", p.barRight)
        .attr("y1", p.heatTop).attr("y2", p.heatTop)
        .attr("stroke", "#8a8a8a").attr("stroke-width", 1.5);

    const altAxis = g.append("g").attr("transform", `translate(${p.left},0)`)
        .call(d3.axisLeft(alt).tickValues(p.altTicks).tickSize(0).tickPadding(p.left - p.labelRight).tickFormat(fmt))
        .call(stripDomain);
    altAxis.selectAll("text").attr("font-size", tickFont).attr("font-family", "DejaVu Sans").attr("fill", "#000").attr("dy", "0.42em");

    // colour bar
    const barId = "grad" + p.name;
    const barY = d3.scaleLinear().domain([-p.barMax, p.barMax]).range([p.heatBottom, p.heatTop]);
    const grad = defs.append("linearGradient").attr("id", barId)
        .attr("x1", 0).attr("x2", 0).attr("y1", 1).attr("y2", 0);
    grad.selectAll("stop").data(rdbuStops).join("stop")
        .attr("offset", (d, i) => i / 10)
        .attr("stop-color", d => d);
    g.append("rect")
        .attr("x", p.right).attr("y", p.heatTop)
        .attr("width", p.barRight - p.right).attr("height", p.heatBottom - p.heatTop)
        .attr("fill", `url(#${barId})`)
        .attr("stroke", "#8a8a8a").attr("stroke-width", 1);
    const barAxis = g.append("g").attr("transform", `translate(${p.barRight},0)`)
        .call(d3.axisRight(barY).tickValues(p.barTicks).tickSize(-13).tickPadding(13).tickFormat(fmt))
        .call(stripDomain);
    barAxis.selectAll("line").attr("stroke", "#111").attr("stroke-width", 2.4);
    barAxis.selectAll("text").attr("font-size", tickFont).attr("font-family", "DejaVu Sans").attr("fill", "#000").attr("dy", "0.42em");

    // line panel
    g.append("rect")
        .attr("x", p.left).attr("y", p.heatBottom)
        .attr("width", p.right - p.left).attr("height", p.lineBottom - p.heatBottom)
        .attr("fill", "#e4e4e4");

    const lineClip = "lineClip" + p.name;
    defs.append("clipPath").attr("id", lineClip).append("rect")
        .attr("x", p.left).attr("y", p.heatBottom)
        .attr("width", p.right - p.left).attr("height", p.lineBottom - p.heatBottom);
    const lines = g.append("g").attr("clip-path", `url(#${lineClip})`);
    lines.append("line")
        .attr("x1", p.left).attr("x2", p.right)
        .attr("y1", y(0)).attr("y2", y(0))
        .attr("stroke", "#000").attr("stroke-width", 3.2);

    p.series.forEach(s => {
        const path = d3.line()
            .defined(d => d[1] !== null)
            .curve(s.smooth ? d3.curveMonotoneX : d3.curveLinear)
            .x(d => x(d[0]))
            .y(d => y(d[1]));
        lines.append("path")
            .datum(s.time.map((t, i) => [t, s.values[i]]))
            .attr("fill", "none")
            .attr("stroke", s.color)
            .attr("stroke-opacity", s.opacity)
            .attr("stroke-width", s.width)
            .attr("stroke-linejoin", "round")
            .attr("d", path);
    });

    const yLeft = g.append("g").attr("transform", `translate(${p.left},0)`)
        .call(d3.axisLeft(y).tickValues(p.lineTicks).tickSize(-34).tickPadding(p.left - p.labelRight).tickFormat(fmt))
        .call(stripDomain);
    yLeft.selectAll("line").attr("stroke", "#111").attr("stroke-width", 2.6);
    yLeft.selectAll("text").attr("font-size", tickFont).attr("font-family", "DejaVu Sans").attr("fill", "#000").attr("dy", "0.42em");
    const yRight = g.append("g").attr("transform", `translate(${p.right},0)`)
        .call(d3.axisRight(y).tickValues(p.lineTicks).tickSize(-34).tickFormat(""))
        .call(stripDomain);
    yRight.selectAll("line").attr("stroke", "#111").attr("stroke-width", 2.6);

    hourAxes(g, x, p.heatBottom, p.lineBottom, p.nub);

    // spines of the line panel
    g.append("rect")
        .attr("x", p.left).attr("y", p.heatBottom)
        .attr("width", p.right - p.left).attr("height", p.lineBottom - p.heatBottom)
        .attr("fill", "none").attr("stroke", "#1a1a1a").attr("stroke-width", 2.8);

    g.append("text")
        .attr("x", p.titleX).attr("y", p.titleY)
        .attr("text-anchor", "middle").attr("font-size", 42)
        .text(p.title);
    g.append("text")
        .attr("x", p.titleX).attr("y", p.xLabelY)
        .attr("text-anchor", "middle").attr("font-size", 34.5)
        .text("LOCAL TIME");
}

function sideLabel(text, x, y) {
    svg.append("text")
        .attr("transform", `translate(${x},${y}) rotate(-90)`)
        .attr("text-anchor", "middle")
        .attr("font-size", 33)
        .text(text);
}

drawPanel({
    name: "up", title: "UPWARD DRIFTS", titleX: 762, titleY: 58, xLabelY: 1169,
    left: 217, right: 1308, barRight: 1335, labelRight: 202,
    heatTop: 77, heatBottom: 581, lineBottom: 1084, nub: 11,
    hourDomain: [-0.48, 24.45], altDomain: [250, 700], lineDomain: [-26.8, 28.1],
    heat: upHeat, altStart: upAltStart, altTicks: upAltTicks,
    barMax: 30, barTicks: upBarTicks, lineTicks: upLineTicks,
    series: [
        {time: upGreyTime, values: upGrey, color: "#000", opacity: 0.5, width: 3.5, smooth: true},
        {time: upBlueTime, values: upBlue, color: "#1f77b4", opacity: 1, width: 5}
    ]
});

drawPanel({
    name: "east", title: "EASTWARD DRIFTS", titleX: 743, titleY: 1224, xLabelY: 2336,
    left: 195.5, right: 1290, barRight: 1317.5, labelRight: 182,
    heatTop: 1242, heatBottom: 1747, lineBottom: 2251, nub: 11,
    hourDomain: [-0.515, 24.42], altDomain: [250, 600], lineDomain: [-116, 221],
    heat: eastHeat, altStart: eastAltStart, altTicks: eastAltTicks,
    barMax: 150, barTicks: eastBarTicks, lineTicks: eastLineTicks,
    series: [
        {time: eastGreyTime, values: eastGrey, color: "#000", opacity: 0.5, width: 3.5, smooth: true},
        {time: eastBlueTime, values: eastBlue, color: "#1f77b4", opacity: 1, width: 5.5},
        {time: eastBlackTime, values: eastBlack, color: "#000", opacity: 1, width: 3.4}
    ]
});

sideLabel("KM", 118, 329);
sideLabel("KM", 1426, 329);
sideLabel("M/S", 111, 831);
sideLabel("M/S", 1398, 831);

// stray marks right of the upper line panel
svg.append("line")
    .attr("x1", 1424).attr("x2", 1444)
    .attr("y1", 1061).attr("y2", 1061)
    .attr("stroke", "#000").attr("stroke-width", 2.4);
svg.append("line")
    .attr("x1", 1444).attr("x2", 1445)
    .attr("y1", 986).attr("y2", 986)
    .attr("stroke", "#555").attr("stroke-width", 1.5);
</script>
</body>
</html>
